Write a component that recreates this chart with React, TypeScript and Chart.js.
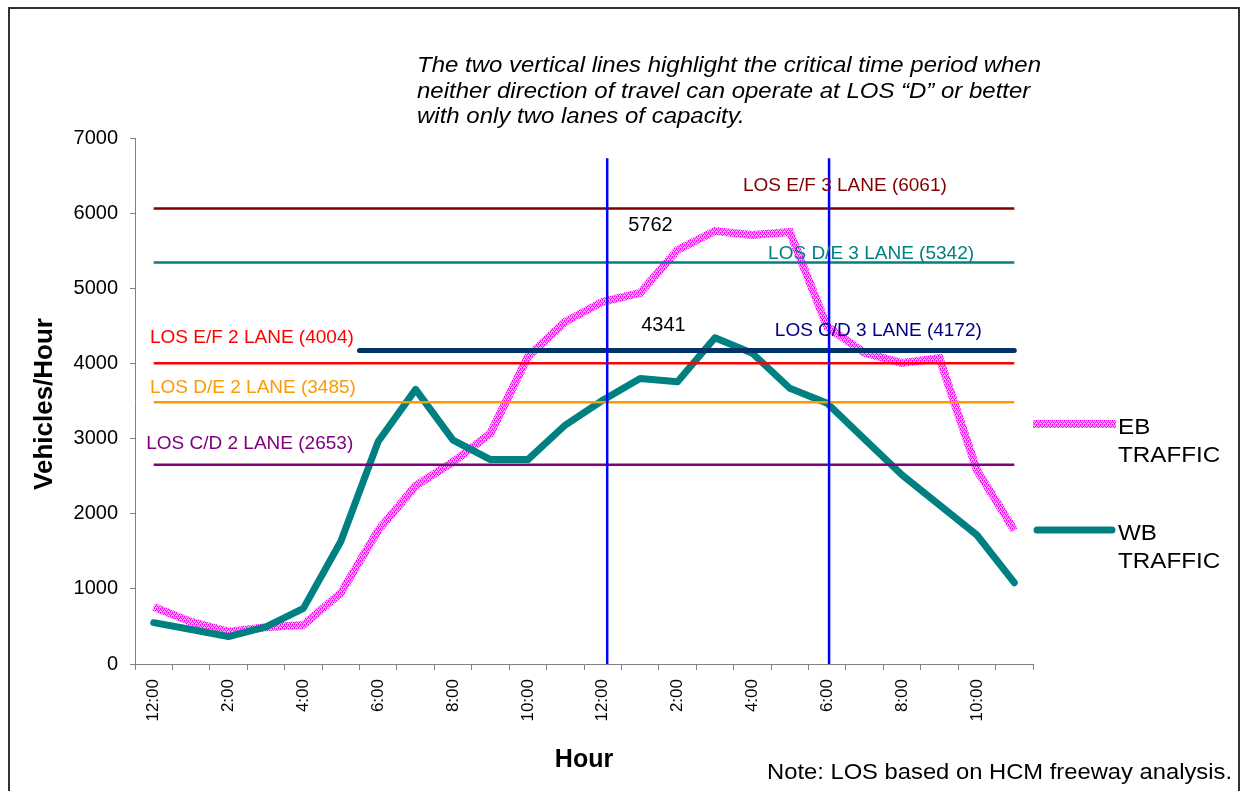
import React, { useEffect, useRef } from 'react';
import { Chart, registerables } from 'chart.js';

Chart.register(...registerables);

// ---- data ----
const hourLabels = ['12:00', '1:00', '2:00', '3:00', '4:00', '5:00', '6:00', '7:00', '8:00', '9:00', '10:00', '11:00',
  '12:00', '1:00', '2:00', '3:00', '4:00', '5:00', '6:00', '7:00', '8:00', '9:00', '10:00', '11:00'];
const ebTraffic = [760, 560, 430, 490, 520, 945, 1780, 2370, 2690, 3070, 4090, 4555, 4820, 4940, 5510, 5762, 5710, 5750, 4490, 4140, 4005, 4070, 2580, 1780];
const wbTraffic = [550, 460, 365, 495, 740, 1630, 2960, 3655, 2980, 2720, 2720, 3180, 3510, 3800, 3757, 4341, 4135, 3670, 3470, 2990, 2515, 2116, 1717, 1082];
const seriesNames = ['EB TRAFFIC', 'WB TRAFFIC'];

const losNames = ['LOS E/F 3 LANE', 'LOS D/E 3 LANE', 'LOS C/D 3 LANE', 'LOS E/F 2 LANE', 'LOS D/E 2 LANE', 'LOS C/D 2 LANE'];
const losValues = [6061, 5342, 4172, 4004, 3485, 2653];
const losStart = [0, 0, 5.5, 0, 0, 0];
const losEnd = [23, 23, 23, 23, 23, 23];
const losLineColors = ['#800000', '#008080', '#003366', '#FF0000', '#FF9900', '#800080'];
const losTextColors = ['#800000', '#008080', '#000080', '#FF0000', '#FF9900', '#800080'];
const losWidths = [2.5, 2.5, 5, 2.5, 2.5, 2.5];
const losLabelX = [15.75, 16.42, 16.6, -0.1, -0.1, -0.2];
const losLabelY = [6361, 5456, 4432, 4338, 3673, 2928];

const criticalX = [12.12, 18.05];
const criticalTop = 6730;

const peakLabels = ['5762', '4341'];
const peakX = [12.68, 13.03];
const peakY = [5842, 4511];

const yTicks = [0, 1000, 2000, 3000, 4000, 5000, 6000, 7000];

const noteLines = [
  'The two vertical lines highlight the critical time period when',
  'neither direction of travel can operate at LOS \u201CD\u201D or better',
  'with only two lanes of capacity.',
];
const footNote = 'Note: LOS based on HCM freeway analysis.';

const FONT = '"Liberation Sans", Arial, Helvetica, sans-serif';

function makePinkPattern(): CanvasPattern | string {
  const c = document.createElement('canvas');
  c.width = 4;
  c.height = 4;
  const g = c.getContext('2d');
  if (!g) return '#FF66FF';
  g.fillStyle = '#FFA0FF';
  g.fillRect(0, 0, 4, 4);
  g.fillStyle = '#FF00FF';
  g.fillRect(0, 0, 1, 1);
  g.fillRect(2, 0, 1, 1);
  g.fillRect(1, 2, 1, 1);
  g.fillRect(3, 2, 1, 1);
  g.fillRect(0, 1, 1, 1);
  g.fillRect(2, 3, 1, 1);
  return g.createPattern(c, 'repeat') || '#FF66FF';
}

// draw text stretched horizontally to a target width (reference text is slightly wide)
function fillStretched(ctx: CanvasRenderingContext2D, text: string, x: number, y: number, targetWidth: number) {
  const w = ctx.measureText(text).width;
  const k = targetWidth > 0 && w > 0 ? targetWidth / w : 1;
  ctx.save();
  ctx.translate(x, y);
  ctx.scale(k, 1);
  ctx.fillText(text, 0, 0);
  ctx.restore();
}

const textPlugin = {
  id: 'textPlugin',
  afterDatasetsDraw(chart: any) {
    const ctx = chart.ctx as CanvasRenderingContext2D;
    const x2 = chart.scales.x2;
    const y = chart.scales.y;
    ctx.save();
    // LOS labels
    ctx.font = `19px ${FONT}`;
    ctx.textBaseline = 'middle';
    ctx.textAlign = 'left';
    losNames.forEach((n, i) => {
      ctx.fillStyle = losTextColors[i];
      ctx.fillText(`${n} (${losValues[i]})`, x2.getPixelForValue(losLabelX[i]), y.getPixelForValue(losLabelY[i]));
    });
    // peak labels
    ctx.font = `20px ${FONT}`;
    ctx.fillStyle = '#000';
    peakLabels.forEach((t, i) => {
      ctx.fillText(t, x2.getPixelForValue(peakX[i]), y.getPixelForValue(peakY[i]));
    });
    ctx.restore();
  },
  afterDraw(chart: any) {
    const ctx = chart.ctx as CanvasRenderingContext2D;
    const area = chart.chartArea;
    ctx.save();
    // axis titles
    ctx.fillStyle = '#000';
    ctx.font = `bold 25px ${FONT}`;
    ctx.textAlign = 'center';
    ctx.textBaseline = 'middle';
    ctx.fillText('Hour', (area.left + area.right) / 2, 760);
    ctx.save();
    ctx.translate(45, (area.top + area.bottom) / 2 + 3);
    ctx.rotate(-Math.PI / 2);
    ctx.font = `bold 26px ${FONT}`;
    ctx.fillText('Vehicles/Hour', 0, 0);
    ctx.restore();

    // italic note at top
    ctx.font = `italic 22px ${FONT}`;
    ctx.textAlign = 'left';
    ctx.textBaseline = 'middle';
    const firstW = ctx.measureText(noteLines[0]).width;
    const k = 624 / firstW;
    noteLines.forEach((l, i) => fillStretched(ctx, l, 417, 66 + i * 25.5, ctx.measureText(l).width * k));

    // foot note
    ctx.font = `22px ${FONT}`;
    fillStretched(ctx, footNote, 767, 773, 465);

    // legend
    const ds = chart.data.datasets;
    const legendY = [424, 530];
    seriesNames.forEach((name, i) => {
      const d = ds.find((q: any) => q.label === name);
      if (!d) return;
      const ly = legendY[i];
      ctx.beginPath();
      ctx.strokeStyle = d.borderColor;
      ctx.lineWidth = d.borderWidth;
      ctx.lineCap = d.borderCapStyle || 'butt';
      const x0 = area.right + (d.borderCapStyle === 'round' ? 4 : 0);
      const x1 = area.right + 83 - (d.borderCapStyle === 'round' ? 4 : 0);
      ctx.moveTo(x0, ly);
      ctx.lineTo(x1, ly);
      ctx.stroke();
      ctx.fillStyle = '#000';
      ctx.font = `22px ${FONT}`;
      ctx.textBaseline = 'alphabetic';
      ctx.textAlign = 'left';
      const parts = name.split(' ');
      parts.forEach((p, kk) => {
        const w = ctx.measureText(p).width;
        fillStretched(ctx, p, area.right + 85, ly + 10 + kk * 28, w * 1.1);
      });
    });
    ctx.restore();
  },
};

export default function App() {
  const ref = useRef<HTMLCanvasElement | null>(null);

  useEffect(() => {
    if (!ref.current) return;
    const pink = makePinkPattern();

    const losDatasets = losValues.map((v, i) => ({
      label: losNames[i],
      type: 'line' as const,
      xAxisID: 'x2',
      data: [{ x: losStart[i], y: v }, { x: losEnd[i], y: v }],
      borderColor: losLineColors[i],
      borderWidth: losWidths[i],
      borderCapStyle: i === 2 ? 'round' : 'butt',
      pointRadius: 0,
      fill: false,
    }));
    const critDatasets = criticalX.map((cx, i) => ({
      label: 'critical ' + i,
      type: 'line' as const,
      xAxisID: 'x2',
      data: [{ x: cx, y: 0 }, { x: cx, y: criticalTop }],
      borderColor: '#0000FF',
      borderWidth: 2.5,
      pointRadius: 0,
      fill: false,
    }));

    const chart = new Chart(ref.current, {
      type: 'line',
      data: {
        labels: hourLabels,
        datasets: [
          ...critDatasets,
          ...losDatasets,
          {
            label: seriesNames[1],
            data: wbTraffic,
            xAxisID: 'x',
            borderColor: '#008080',
            borderWidth: 7,
            borderCapStyle: 'round',
            borderJoinStyle: 'round',
            pointRadius: 0,
            tension: 0,
            fill: false,
          },
          {
            label: seriesNames[0],
            data: ebTraffic,
            xAxisID: 'x',
            borderColor: pink as any,
            borderWidth: 8,
            borderCapStyle: 'butt',
            borderJoinStyle: 'miter',
            pointRadius: 0,
            tension: 0,
            fill: false,
          },
        ] as any,
      },
      options: {
        animation: false,
        responsive: false,
        events: [],
        layout: { padding: { top: 138, right: 208, bottom: 0, left: 0 } },
        plugins: {
          legend: { display: false },
          tooltip: { enabled: false },
        },
        scales: {
          x: {
            type: 'category',
            offset: true,
            grid: { display: true, offset: true, drawOnChartArea: false, drawTicks: true, tickLength: 6, color: '#808080', lineWidth: 1 },
            border: { color: '#808080', width: 1 },
            ticks: {
              autoSkip: false,
              maxRotation: 90,
              minRotation: 90,
              padding: 9,
              color: '#000',
              font: { family: FONT, size: 17 },
              callback: (_v: any, idx: number) => (idx % 2 === 0 ? hourLabels[idx] : ''),
            },
            afterFit: (s: any) => { s.height = 127; },
          },
          x2: {
            type: 'linear',
            display: false,
            min: -0.5,
            max: 23.5,
          },
          y: {
            type: 'linear',
            min: 0,
            max: 7000,
            grid: { display: true, drawOnChartArea: false, drawTicks: true, tickLength: 5, color: '#808080' },
            border: { color: '#808080', width: 1 },
            afterBuildTicks: (s: any) => { s.ticks = yTicks.map((v) => ({ value: v })); },
            ticks: {
              padding: 12,
              color: '#000',
              font: { family: FONT, size: 20 },
              callback: (v: any) => String(v),
            },
            afterFit: (s: any) => { s.width = 135; },
          },
        },
      } as any,
      plugins: [textPlugin],
    });
    return () => chart.destroy();
  }, []);

  return (
    <div style={{ position: 'fixed', left: 0, top: 0, width: 1241, height: 791, background: '#fff', overflow: 'hidden' }}>
      <div style={{ position: 'absolute', left: 8, top: 7, width: 1232, height: 900, border: '2px solid #333', boxSizing: 'border-box' }} />
      <canvas ref={ref} width={1241} height={791} style={{ position: 'absolute', left: 0, top: 0, width: 1241, height: 791 }} />
    </div>
  );
}
